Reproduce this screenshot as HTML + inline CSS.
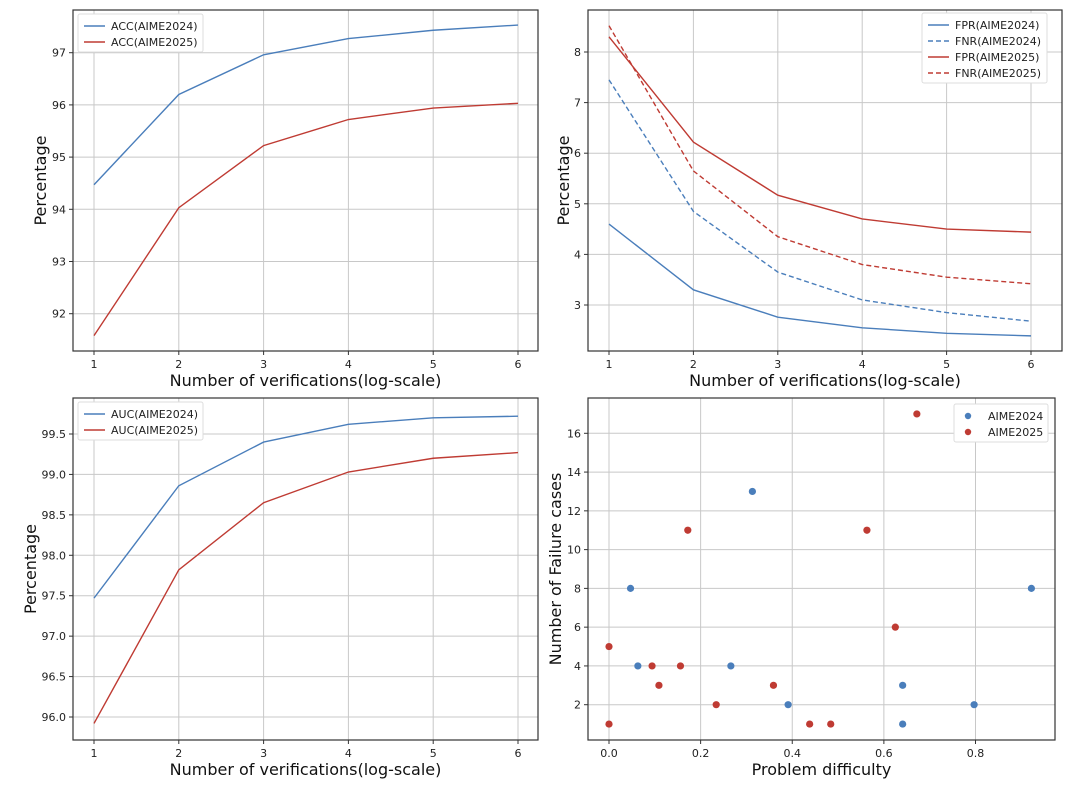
<!DOCTYPE html>
<html><head><meta charset="utf-8">
<style>
body{margin:0;background:#fff;}
svg{display:block;font-family:"DejaVu Sans","Liberation Sans",sans-serif;}
.tick{font-size:11px;fill:#222;}
.lab{font-size:16px;fill:#111;}
.leg{font-size:11px;fill:#222;}
</style></head>
<body>
<svg id="fig" width="1080" height="786" viewBox="0 0 1080 786" xmlns="http://www.w3.org/2000/svg"></svg>
<script>
const xs=[1,2,3,4,5,6];
const acc2024=[94.47,96.2,96.96,97.27,97.43,97.53];
const acc2025=[91.58,94.03,95.22,95.72,95.94,96.03];
const fpr2024=[4.6,3.3,2.76,2.55,2.44,2.39];
const fnr2024=[7.45,4.85,3.65,3.1,2.85,2.68];
const fpr2025=[8.3,6.22,5.17,4.7,4.5,4.44];
const fnr2025=[8.52,5.65,4.35,3.8,3.55,3.42];
const auc2024=[97.47,98.86,99.4,99.62,99.7,99.72];
const auc2025=[95.92,97.82,98.65,99.03,99.2,99.27];
const d2024x=[0.047,0.063,0.266,0.313,0.391,0.641,0.641,0.797,0.922];
const d2024y=[8,4,4,13,2,3,1,2,8];
const d2025x=[0,0,0.094,0.109,0.156,0.172,0.234,0.359,0.438,0.484,0.563,0.625,0.672];
const d2025y=[5,1,4,3,4,11,2,3,1,1,11,6,17];
const accTicks=[92,93,94,95,96,97];
const errTicks=[3,4,5,6,7,8];
const aucTicks=[96.0,96.5,97.0,97.5,98.0,98.5,99.0,99.5];
const scTicksY=[2,4,6,8,10,12,14,16];
const scTicksX=[0.0,0.2,0.4,0.6,0.8];
const BLUE="#4a7ebb",RED="#bf3b33";
const svg=document.getElementById('fig');
const NS="http://www.w3.org/2000/svg";
function el(t,a,p){const e=document.createElementNS(NS,t);for(const k in a)e.setAttribute(k,a[k]);(p||svg).appendChild(e);return e;}
function lin(d0,d1,r0,r1){return v=>r0+(v-d0)*(r1-r0)/(d1-d0);}
function panel(name,L,R,T,B,sx,sy,xt,yt,xfmt,yfmt,xlab,ylab,ylabX){
 const g=el('g',{});
 
 
 xt.forEach(v=>{const x=sx(v);el('line',{x1:x,x2:x,y1:T,y2:B,stroke:'#c8c8c8','stroke-width':1},g);
  el('line',{x1:x,x2:x,y1:B,y2:B+4,stroke:'#333'},g);
  const t=el('text',{x:x,y:B+17,'text-anchor':'middle',class:'tick'},g);t.textContent=xfmt(v);});
 yt.forEach(v=>{const y=sy(v);el('line',{x1:L,x2:R,y1:y,y2:y,stroke:'#c8c8c8','stroke-width':1},g);
  el('line',{x1:L-4,x2:L,y1:y,y2:y,stroke:'#333'},g);
  const t=el('text',{x:L-7,y:y+4,'text-anchor':'end',class:'tick'},g);t.textContent=yfmt(v);});
 el('rect',{x:L,y:T,width:R-L,height:B-T,fill:'none',stroke:'#333','stroke-width':1.2},g);
 const xl=el('text',{x:(L+R)/2,y:B+35,'text-anchor':'middle',class:'lab'},g);xl.textContent=xlab;
 
 const yl=el('text',{x:ylabX,y:(T+B)/2,'text-anchor':'middle',class:'lab',transform:`rotate(-90 ${ylabX} ${(T+B)/2})`},g);yl.textContent=ylab;
 
 return g;
}
function line(g,sx,sy,ys,col,dash,name){
 const p=el('polyline',{points:xs.map((x,i)=>sx(x)+','+sy(ys[i])).join(' '),fill:'none',stroke:col,'stroke-width':1.4,'stroke-dasharray':dash||'none'},g);
 
}
function legend(g,x,y,w,items){
 const lg=el('g',{},g);
 
 el('rect',{x:x,y:y,width:w,height:items.length*16+6,fill:'#fff',stroke:'#ddd',rx:2},lg);
 items.forEach((it,i)=>{const yy=y+12+i*16;
  if(it.dot)el('circle',{cx:x+14,cy:yy,r:3.2,fill:it.c},lg);
  else el('line',{x1:x+6,x2:x+27,y1:yy,y2:yy,stroke:it.c,'stroke-width':1.4,'stroke-dasharray':it.d||'none'},lg);
  const t=el('text',{x:x+(it.dot?34:33),y:yy+4,class:'leg'},lg);t.textContent=it.t;
  });
}
const fmtI=v=>String(v);
// Panel 1
{const sx=lin(1,6,94,518),sy=lin(97,92,52.7,313.7);
 const g=panel('acc-chart',73,538,10,351,sx,sy,xs,accTicks,fmtI,fmtI,'Number of verifications(log-scale)','Percentage',46);
 line(g,sx,sy,acc2024,BLUE,null,'acc-aime2024-line');line(g,sx,sy,acc2025,RED,null,'acc-aime2025-line');
 legend(g,78,14,125,[{t:'ACC(AIME2024)',c:BLUE},{t:'ACC(AIME2025)',c:RED}]);}
// Panel 2
{const sx=lin(1,6,609,1031),sy=lin(8,3,52,305);
 const g=panel('error-rate-chart',588,1062,10,351,sx,sy,xs,errTicks,fmtI,fmtI,'Number of verifications(log-scale)','Percentage',569);
 line(g,sx,sy,fpr2024,BLUE,null,'fpr-aime2024-line');line(g,sx,sy,fnr2024,BLUE,'5,3','fnr-aime2024-line');
 line(g,sx,sy,fpr2025,RED,null,'fpr-aime2025-line');line(g,sx,sy,fnr2025,RED,'5,3','fnr-aime2025-line');
 legend(g,922,13,125,[{t:'FPR(AIME2024)',c:BLUE},{t:'FNR(AIME2024)',c:BLUE,d:'5,3'},{t:'FPR(AIME2025)',c:RED},{t:'FNR(AIME2025)',c:RED,d:'5,3'}]);}
// Panel 3
{const sx=lin(1,6,94,518),sy=lin(99.5,96.0,434,717);
 const g=panel('auc-chart',73,538,398,740,sx,sy,xs,aucTicks,fmtI,v=>v.toFixed(1),'Number of verifications(log-scale)','Percentage',36);
 line(g,sx,sy,auc2024,BLUE,null,'auc-aime2024-line');line(g,sx,sy,auc2025,RED,null,'auc-aime2025-line');
 legend(g,78,402,125,[{t:'AUC(AIME2024)',c:BLUE},{t:'AUC(AIME2025)',c:RED}]);}
// Panel 4
{const sx=lin(0,0.8,609,975.5),sy=lin(16,2,433.3,704.7);
 const g=panel('difficulty-scatter',588,1055,398,740,sx,sy,scTicksX,scTicksY,v=>v.toFixed(1),fmtI,'Problem difficulty','Number of Failure cases',561);
 d2024x.forEach((x,i)=>{const c=el('circle',{cx:sx(x),cy:sy(d2024y[i]),r:3.6,fill:BLUE},g);
  });
 d2025x.forEach((x,i)=>{const c=el('circle',{cx:sx(x),cy:sy(d2025y[i]),r:3.6,fill:RED},g);
  });
 legend(g,954,404,94,[{t:'AIME2024',c:BLUE,dot:1},{t:'AIME2025',c:RED,dot:1}]);}
</script>
</body></html>
